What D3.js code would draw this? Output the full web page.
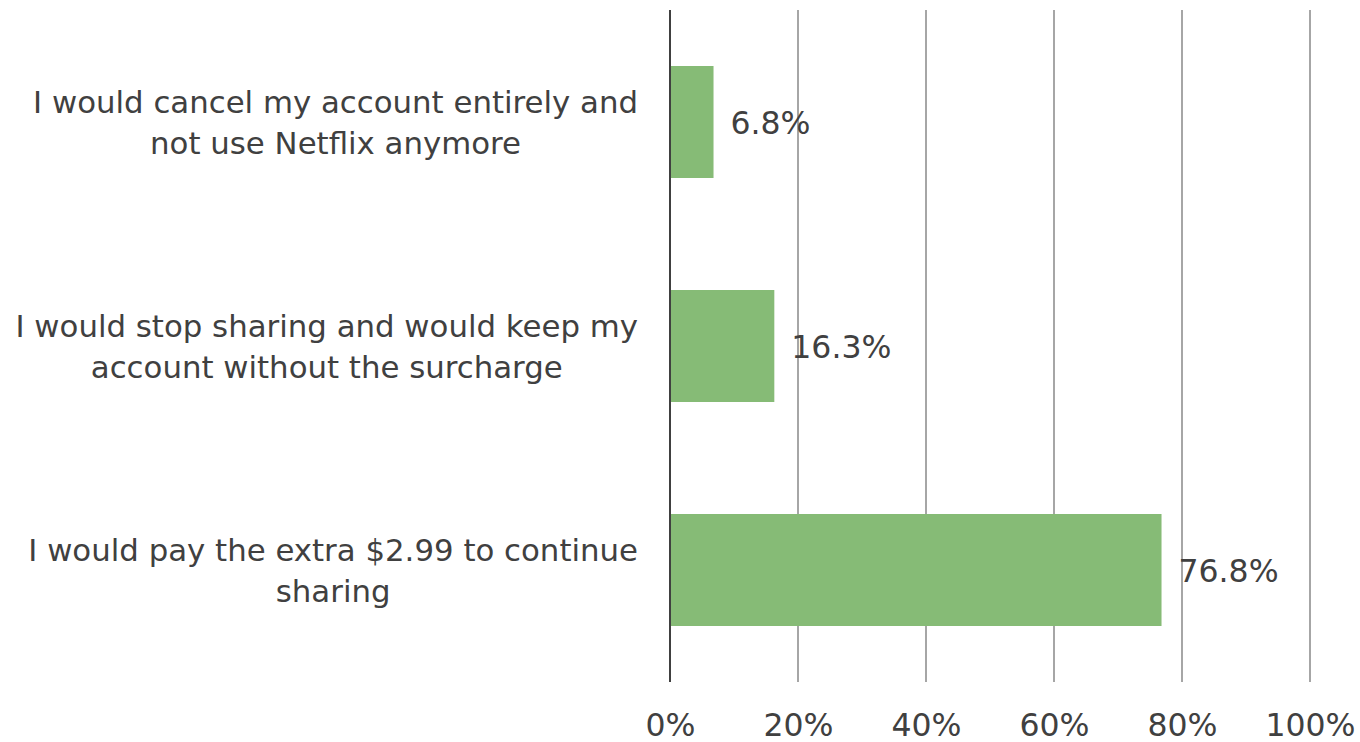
<!DOCTYPE html>
<html><head><meta charset="utf-8">
<script src="https://cdn.jsdelivr.net/npm/d3@7"></script>
<style>
html,body{margin:0;padding:0;background:#fff;}
svg text{font-family:"DejaVu Sans",sans-serif;fill:#404040;}
</style></head>
<body>
<svg id="chart" width="1360" height="742"></svg>
<script>
const categories = [
  ["I would cancel my account entirely and", "not use Netflix anymore"],
  ["I would stop sharing and would keep my", "account without the surcharge"],
  ["I would pay the extra $2.99 to continue", "sharing"]
];
const values = [0.068, 0.163, 0.768];
const valueLabels = ["6.8%", "16.3%", "76.8%"];
const tickValues = [0, 0.2, 0.4, 0.6, 0.8, 1.0];

const svg = d3.select("#chart");
const fsCat = 30.8, fsNum = 31.5;
const x = d3.scaleLinear().domain([0, 1]).range([670, 1310]);
const y = d3.scaleBand().domain(d3.range(categories.length)).range([10, 682]).paddingInner(0.5).paddingOuter(0.25);

// gridlines
svg.append("g").selectAll("line").data(tickValues.slice(1)).join("line")
  .attr("x1", d => x(d)).attr("x2", d => x(d)).attr("y1", 10).attr("y2", 682)
  .attr("stroke", "#a6a6a6").attr("stroke-width", 2);

// bars
svg.append("g").selectAll("rect").data(values).join("rect")
  .attr("x", x(0)).attr("y", (d, i) => y(i))
  .attr("width", d => x(d) - x(0)).attr("height", y.bandwidth())
  .attr("fill", "#86bb76");

// axis line
svg.append("line").attr("x1", x(0)).attr("x2", x(0)).attr("y1", 10).attr("y2", 682)
  .attr("stroke", "#404040").attr("stroke-width", 2);

// x tick labels
const xAxis = d3.axisBottom(x).tickValues(tickValues).tickFormat(d3.format(".0%")).tickSize(0).tickPadding(0);
const gx = svg.append("g").attr("transform", "translate(0,736)").call(xAxis);
gx.select(".domain").remove();
gx.selectAll("text").attr("font-size", fsNum).attr("font-family", null).attr("fill", "#404040").attr("y", 0).attr("dy", 0);

// value labels
svg.append("g").selectAll("text").data(values).join("text")
  .attr("x", d => x(d) + 17).attr("y", (d, i) => y(i) + y.bandwidth() / 2)
  .attr("dy", "0.37em").attr("font-size", fsNum)
  .text((d, i) => valueLabels[i]);

// category labels: block right-aligned at 638, lines centered in block
const rightEdge = 638;
categories.forEach((lines, i) => {
  const g = svg.append("g");
  const texts = g.selectAll("text").data(lines).join("text")
    .attr("font-size", fsCat).attr("text-anchor", "middle")
    .text(d => d);
  let maxW = 0;
  texts.each(function(){ maxW = Math.max(maxW, this.getComputedTextLength()); });
  const cy = y(i) + y.bandwidth() / 2;
  const lh = 41;
  texts.attr("x", rightEdge - maxW / 2)
    .attr("y", (d, j) => cy + (j - (lines.length - 1) / 2) * lh)
    .attr("dy", "0.37em");
});
</script>
</body></html>
